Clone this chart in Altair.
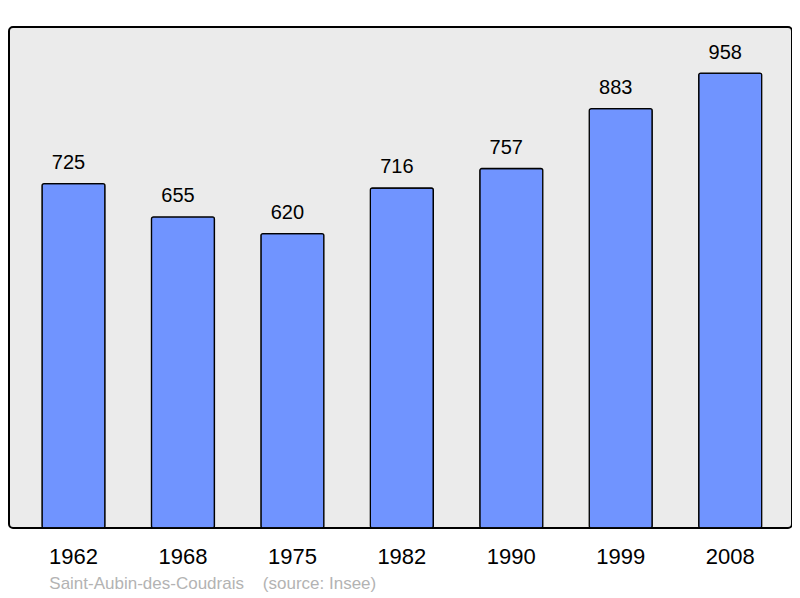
import altair as alt
import pandas as pd

years = ["1962", "1968", "1975", "1982", "1990", "1999", "2008"]
population = [725, 655, 620, 716, 757, 883, 958]
source_text = "Saint-Aubin-des-Coudrais\u00a0\u00a0\u00a0\u00a0(source: Insee)"

df = pd.DataFrame({"year": years, "pop": population})
FONT = "Liberation Sans"

x = alt.X("year:N", sort=years, title=None,
          scale=alt.Scale(range=[33, 752.7], paddingInner=0.4244, paddingOuter=0),
          axis=alt.Axis(labelAngle=0, labelFontSize=22, labelFont=FONT,
                        labelColor="black", domain=False, ticks=False,
                        tickSize=0, labelPadding=18, grid=False))
y = alt.Y("pop:Q", title=None, scale=alt.Scale(domain=[0, 1055], nice=False),
          axis=None)

bars = alt.Chart(df).mark_bar(color="#7094ff", stroke="black",
                              strokeWidth=1.3, cornerRadius=2).encode(x=x, y=y)
labels = alt.Chart(df).mark_text(fontSize=20, font=FONT, color="black",
                                 baseline="alphabetic", dy=-14.5, dx=-5).encode(
    x=alt.X("year:N", sort=years), y="pop:Q", text="pop:Q")
src = alt.Chart(pd.DataFrame({"t": [source_text]})).mark_text(
    fontSize=17, font=FONT, color="#b3b3b3", align="left",
    baseline="alphabetic").encode(x=alt.value(40.3), y=alt.value(562), text="t:N")

chart = alt.layer(bars, labels, src).properties(
    width=783, height=501,
    autosize=alt.AutoSizeParams(type="none"),
    padding={"left": 1, "top": 19, "right": 0, "bottom": 66},
).configure_view(fill="#ebebeb", stroke="black", strokeWidth=2, cornerRadius=4)

chart.save("out.html", embed_options={"renderer": "svg", "actions": False})
